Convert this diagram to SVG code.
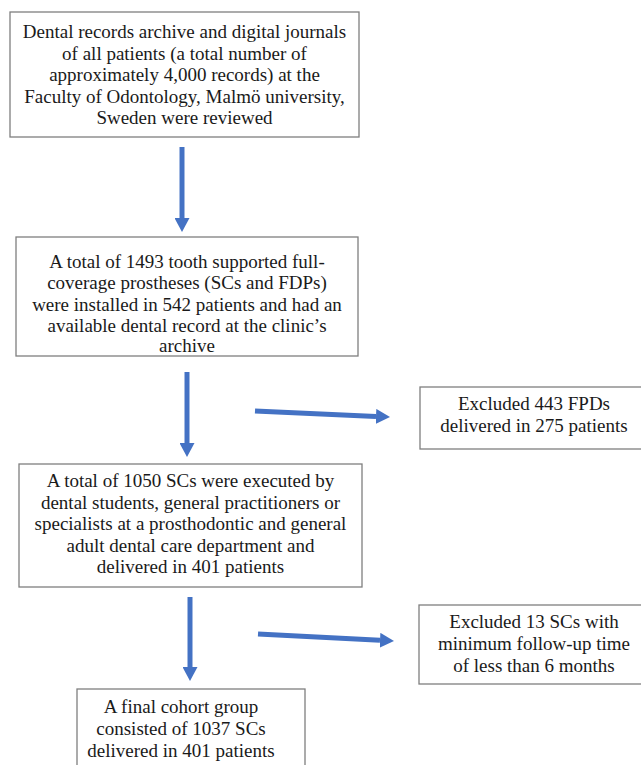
<svg xmlns="http://www.w3.org/2000/svg" width="641" height="765" viewBox="0 0 641 765">
<style>
.box{fill:#ffffff;stroke:#7f7f7f;stroke-width:1.3}
.t{font-family:"Liberation Serif","Times New Roman",serif;font-size:19px;fill:#1a1a1a;text-anchor:middle}
.arr{stroke:#4472c4;stroke-width:5;fill:none;marker-end:url(#ah)}
</style>
<defs>
<marker id="ah" markerUnits="userSpaceOnUse" viewBox="0 0 14 15" refX="0" refY="7.5" markerWidth="14" markerHeight="15" orient="auto">
<path d="M0,0 L14,7.5 L0,15 Z" fill="#4472c4"/>
</marker>
</defs>
<rect width="641" height="765" fill="#ffffff"/>
<g id="connectors">
<line class="arr" x1="182" y1="147" x2="182" y2="218"/>
<line class="arr" x1="187" y1="372" x2="187" y2="443"/>
<line class="arr" x1="190" y1="597" x2="190" y2="667"/>
<line class="arr" x1="255" y1="411" x2="376" y2="416.4"/>
<line class="arr" x1="258" y1="634" x2="380" y2="640.3"/>
</g>
<g id="n1">
<rect class="box" x="10" y="12" width="349" height="125"/>
<text class="t" x="184.5" y="37.5">Dental records archive and digital journals</text>
<text class="t" x="184.5" y="59.5">of all patients (a total number of</text>
<text class="t" x="184.5" y="81">approximately 4,000 records) at the</text>
<text class="t" x="184.5" y="102.5">Faculty of Odontology, Malmö university,</text>
<text class="t" x="184.5" y="124">Sweden were reviewed</text>
</g>
<g id="n2">
<rect class="box" x="16" y="237" width="342" height="119"/>
<text class="t" x="187" y="267.5">A total of 1493 tooth supported full-</text>
<text class="t" x="187" y="289">coverage prostheses (SCs and FDPs)</text>
<text class="t" x="187" y="310.5">were installed in 542 patients and had an</text>
<text class="t" x="187" y="332">available dental record at the clinic’s</text>
<text class="t" x="187" y="351.5">archive</text>
</g>
<g id="n3">
<rect class="box" x="420" y="387" width="225" height="62"/>
<text class="t" x="534" y="410">Excluded 443 FPDs</text>
<text class="t" x="534" y="431.5">delivered in 275 patients</text>
</g>
<g id="n4">
<rect class="box" x="19" y="464" width="343" height="123"/>
<text class="t" x="190.5" y="487">A total of 1050 SCs were executed by</text>
<text class="t" x="190.5" y="508.5">dental students, general practitioners or</text>
<text class="t" x="190.5" y="530">specialists at a prosthodontic and general</text>
<text class="t" x="190.5" y="551.5">adult dental care department and</text>
<text class="t" x="190.5" y="573">delivered in 401 patients</text>
</g>
<g id="n5">
<rect class="box" x="419" y="605" width="226" height="79"/>
<text class="t" x="534" y="628">Excluded 13 SCs with</text>
<text class="t" x="534" y="650">minimum follow-up time</text>
<text class="t" x="534" y="672">of less than 6 months</text>
</g>
<g id="n6">
<rect class="box" x="77" y="689" width="228" height="90"/>
<text class="t" x="181" y="713">A final cohort group</text>
<text class="t" x="181" y="735">consisted of 1037 SCs</text>
<text class="t" x="181" y="757">delivered in 401 patients</text>
</g>
</svg>
